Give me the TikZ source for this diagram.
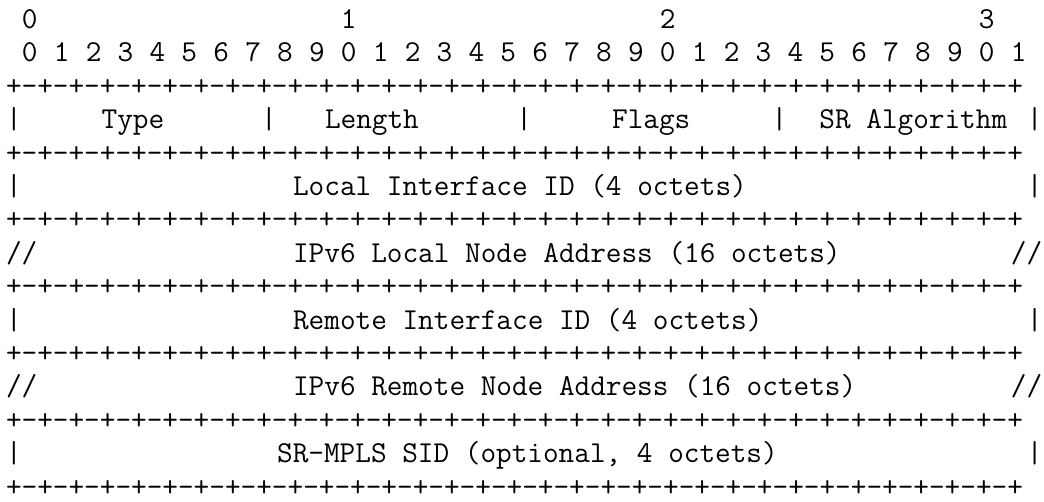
\documentclass[tikz,border=0pt]{standalone}
\usepackage{fontspec}
\usepackage{tikz}
\newcommand{\plusminus}{+-+-+-+-}
\newcommand{\hdrline}{\plusminus\plusminus\plusminus\plusminus\plusminus\plusminus\plusminus\plusminus+}

\begin{document}
\begin{tikzpicture}[x=15.95pt, y=-33.4pt,
    cell/.style={anchor=base west, inner sep=0pt, outer sep=0pt,
      font=\ttfamily\fontsize{30.38pt}{36pt}\selectfont}]
  \useasboundingbox (-6pt,28.5pt) rectangle (1038pt,-473.5pt);

  % bit numbers
  \foreach \d in {0,...,3}
    \node[cell] (dec\d) at (1+20*\d,0) {\d};
  \foreach \b in {0,...,31}{
    \pgfmathtruncatemacro{\u}{mod(\b,10)}
    \node[cell] (bit\b) at (2*\b+1,1) {\u};
  }

  % separator lines
  \foreach \r in {2,4,...,14}
    \node[cell] (sep\r) at (0,\r) {\hdrline};

  % first word
  \foreach \c in {0,16,32,48,64}
    \node[cell] (bar\c) at (\c,3) {|};
  \node[cell] (type) at (6,3) {Type};
  \node[cell] (length) at (20,3) {Length};
  \node[cell] (flags) at (38,3) {Flags};
  \node[cell] (algo) at (51,3) {SR Algorithm};

  % one-word fields
  \foreach \r in {5,9,13}{
    \node[cell] (lbar\r) at (0,\r) {|};
    \node[cell] (rbar\r) at (64,\r) {|};
  }
  % variable-length fields
  \foreach \r in {7,11}{
    \node[cell] (lcut\r) at (0,\r) {//};
    \node[cell] (rcut\r) at (63,\r) {//};
  }

  \node[cell] (localif) at (18,5) {Local Interface ID (4 octets)};
  \node[cell] (localaddr) at (18,7) {IPv6 Local Node Address (16 octets)};
  \node[cell] (remoteif) at (18,9) {Remote Interface ID (4 octets)};
  \node[cell] (remoteaddr) at (18,11) {IPv6 Remote Node Address (16 octets)};
  \node[cell] (mplssid) at (17,13) {SR-MPLS SID (optional, 4 octets)};
\end{tikzpicture}
\end{document}
